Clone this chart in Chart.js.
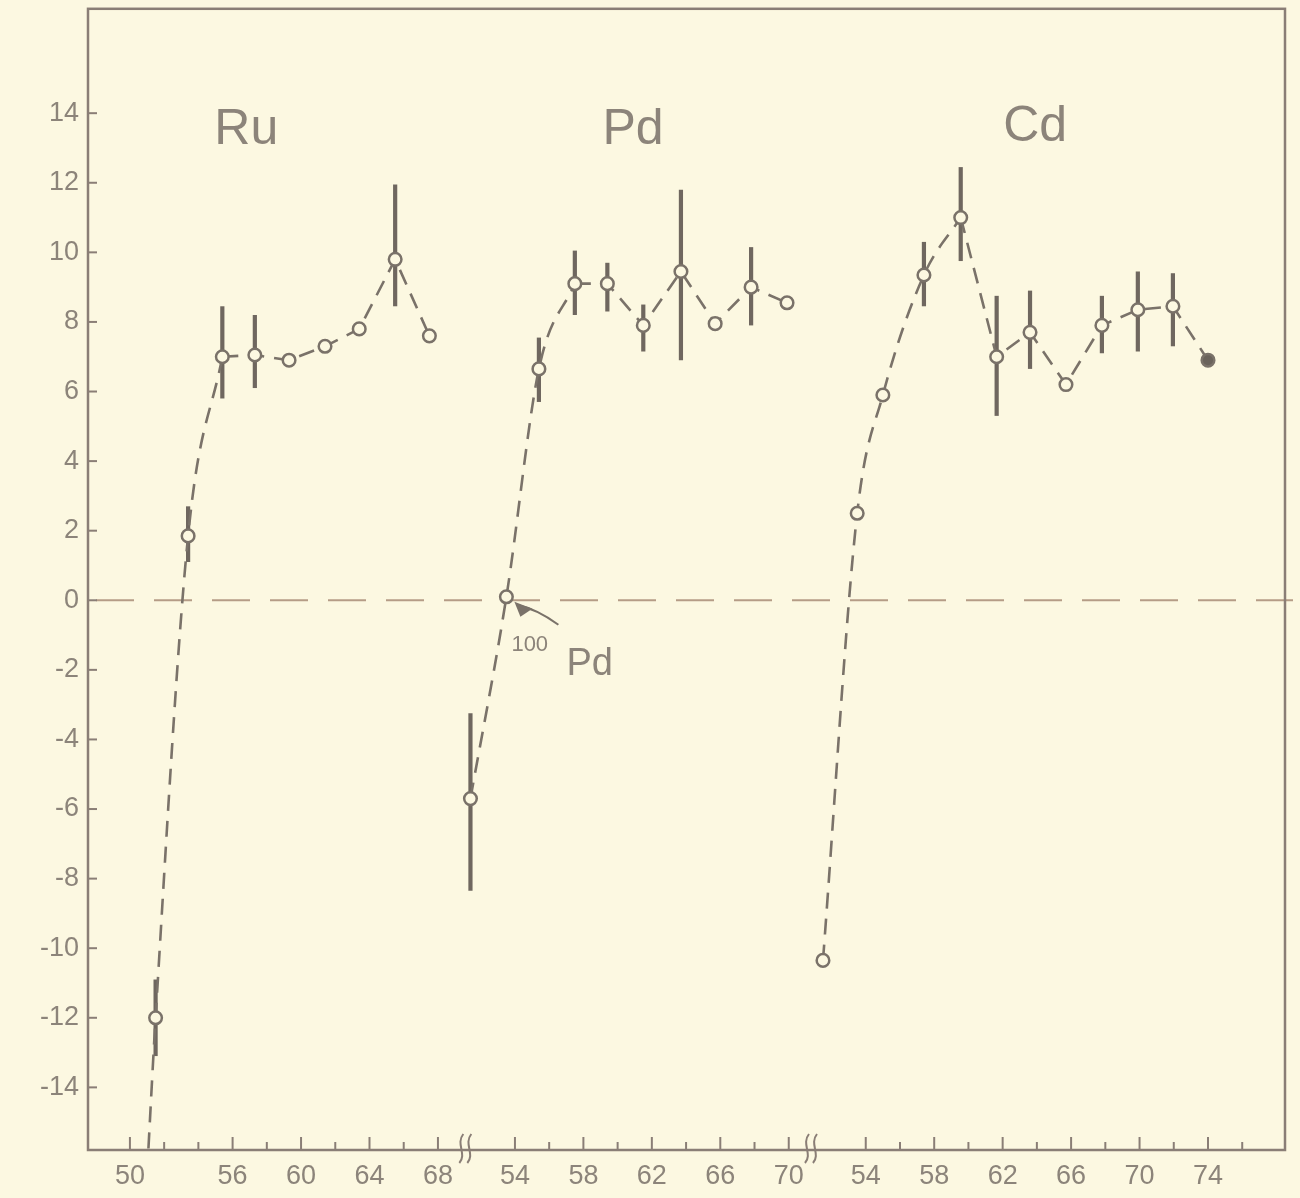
<!DOCTYPE html>
<html>
<head>
<meta charset="utf-8">
<script src="https://cdn.jsdelivr.net/npm/chart.js@4.4.1/dist/chart.umd.min.js"></script>
<style>
  html, body { margin: 0; padding: 0; background: #fcf8e1; }
  #wrap { width: 1300px; height: 1198px; }
</style>
</head>
<body>
<div id="wrap"><canvas id="chart"></canvas></div>
<script>
// values (x = mass number as drawn, y = plotted quantity)
const ruN   = [51.5, 53.4, 55.4, 57.3, 59.3, 61.4, 63.4, 65.5, 67.5];
const ruVal = [-12.0, 1.85, 7.0, 7.05, 6.9, 7.3, 7.8, 9.8, 7.6];
const ruHi  = [-10.9, 2.7, 8.45, 8.2, null, null, null, 11.95, null];
const ruLo  = [-13.1, 1.1, 5.8, 6.1, null, null, null, 8.45, null];
const ruTail = [51.0, -16.5]; // dashed curve runs on below the axis

const pdN   = [51.4, 53.5, 55.4, 57.5, 59.4, 61.5, 63.7, 65.7, 67.8, 69.9];
const pdVal = [-5.7, 0.1, 6.65, 9.1, 9.1, 7.9, 9.45, 7.95, 9.0, 8.55];
const pdHi  = [-3.25, null, 7.55, 10.05, 9.7, 8.5, 11.8, null, 10.15, null];
const pdLo  = [-8.35, null, 5.7, 8.2, 8.3, 7.15, 6.9, null, 7.9, null];

const cdN   = [51.5, 53.5, 55.0, 57.4, 59.55, 61.65, 63.6, 65.7, 67.8, 69.9, 71.95, 74.0];
const cdVal = [-10.35, 2.5, 5.9, 9.35, 11.0, 7.0, 7.7, 6.2, 7.9, 8.35, 8.45, 6.9];
const cdHi  = [null, null, null, 10.3, 12.45, 8.75, 8.9, null, 8.75, 9.45, 9.4, null];
const cdLo  = [null, null, null, 8.45, 9.75, 5.3, 6.65, null, 7.1, 7.15, 7.3, null];

// tick marks and which of them carry a label
const yTicks = [-14, -12, -10, -8, -6, -4, -2, 0, 2, 4, 6, 8, 10, 12, 14];
const ruTicks = [50, 52, 54, 56, 58, 60, 62, 64, 66, 68];
const ruLabels = [50, 56, 60, 64, 68];
const pdTicks = [54, 56, 58, 60, 62, 64, 66, 68, 70];
const pdLabels = [54, 58, 62, 66, 70];
const cdTicks = [54, 56, 58, 60, 62, 64, 66, 68, 70, 72, 74, 76];
const cdLabels = [54, 58, 62, 66, 70, 74];

// the three panels share one axis, shifted along it (broken axis)
const ruOff = 0, pdOff = 18.5, cdOff = 39;
const ruKnee = 2, pdKnee = 3, cdKnee = 4;

const paper = "#fcf8e1";
const ink = "#7a7269";
const barInk = "#6f675f";
const axisInk = "#8a7e76";
const zeroInk = "#b59c86";
const textInk = "#8c847a";

function pts(n, v, off) {
  return n.map((x, i) => ({ x: x + off, y: v[i] }));
}

const xTickList = [];
function addTicks(ticks, labels, off) {
  ticks.forEach(t => xTickList.push({ value: t + off, label: labels.includes(t) ? String(t) : "", major: labels.includes(t) }));
}
addTicks(ruTicks, ruLabels, ruOff);
addTicks(pdTicks, pdLabels, pdOff);
addTicks(cdTicks, cdLabels, cdOff);

const ruPts = pts(ruN, ruVal, ruOff);
const pdPts = pts(pdN, pdVal, pdOff);
const cdPts = pts(cdN, cdVal, cdOff);

function curve(data, monotone) {
  return {
    type: "line",
    data: data,
    borderColor: ink,
    borderWidth: 2.6,
    borderDash: [16, 10],
    pointRadius: 0,
    fill: false,
    cubicInterpolationMode: monotone ? "monotone" : "default",
    tension: 0,
    order: 2
  };
}

function markers(data, fills) {
  return {
    type: "scatter",
    data: data,
    borderColor: ink,
    backgroundColor: fills || paper,
    pointRadius: 6.3,
    pointBorderWidth: 2.5,
    order: 0
  };
}

const errorGroups = [
  [ruN, ruHi, ruLo, ruOff],
  [pdN, pdHi, pdLo, pdOff],
  [cdN, cdHi, cdLo, cdOff]
];

const decorations = {
  id: "decorations",
  beforeDatasetsDraw(chart) {
    const { ctx, chartArea: a, scales: { x, y } } = chart;
    ctx.save();
    // dashed zero line
    ctx.strokeStyle = zeroInk;
    ctx.lineWidth = 2;
    ctx.setLineDash([38, 20]);
    ctx.beginPath();
    ctx.moveTo(a.left + 8, y.getPixelForValue(0));
    ctx.lineTo(a.right + 8, y.getPixelForValue(0));
    ctx.stroke();
    ctx.setLineDash([]);
    // error bars
    ctx.strokeStyle = barInk;
    ctx.lineWidth = 4.2;
    errorGroups.forEach(([n, hi, lo, off]) => {
      n.forEach((v, i) => {
        if (hi[i] == null) return;
        const px = x.getPixelForValue(v + off);
        ctx.beginPath();
        ctx.moveTo(px, y.getPixelForValue(hi[i]));
        ctx.lineTo(px, y.getPixelForValue(lo[i]));
        ctx.stroke();
      });
    });
    ctx.restore();
  },
  afterDraw(chart) {
    const { ctx, chartArea: a, scales: { x, y } } = chart;
    ctx.save();
    // frame
    ctx.strokeStyle = axisInk;
    ctx.lineWidth = 2.5;
    ctx.strokeRect(a.left, a.top, a.right - a.left, a.bottom - a.top);
    // inward tick marks
    ctx.lineWidth = 2;
    yTicks.forEach(t => {
      const py = y.getPixelForValue(t);
      ctx.beginPath();
      ctx.moveTo(a.left, py);
      ctx.lineTo(a.left + 9, py);
      ctx.stroke();
    });
    xTickList.forEach(t => {
      const px = x.getPixelForValue(t.value);
      ctx.beginPath();
      ctx.moveTo(px, a.bottom);
      ctx.lineTo(px, a.bottom - (t.major ? 13 : 8));
      ctx.stroke();
    });
    // axis break marks
    [69.6, 89.8].forEach(u => {
      const px = x.getPixelForValue(u);
      [-4, 4].forEach(dx => {
        ctx.beginPath();
        ctx.moveTo(px + dx + 2, a.bottom - 16);
        ctx.bezierCurveTo(px + dx - 6, a.bottom - 6, px + dx + 6, a.bottom + 4, px + dx - 2, a.bottom + 13);
        ctx.stroke();
      });
    });
    // element names
    ctx.fillStyle = textInk;
    ctx.textAlign = "center";
    ctx.textBaseline = "alphabetic";
    ctx.font = "50px 'Liberation Sans', sans-serif";
    ctx.fillText("Ru", x.getPixelForValue(56.8 + ruOff), y.getPixelForValue(13.1));
    ctx.fillText("Pd", x.getPixelForValue(60.9 + pdOff), y.getPixelForValue(13.1));
    ctx.fillText("Cd", x.getPixelForValue(63.9 + cdOff), y.getPixelForValue(13.2));
    // 100Pd note with its hook
    const qx = x.getPixelForValue(pdN[1] + pdOff);
    const qy = y.getPixelForValue(pdVal[1]);
    ctx.textAlign = "left";
    ctx.font = "22px 'Liberation Sans', sans-serif";
    ctx.fillText("100", qx + 5, qy + 54);
    ctx.font = "38px 'Liberation Sans', sans-serif";
    ctx.fillText("Pd", qx + 60, qy + 78);
    ctx.strokeStyle = ink;
    ctx.lineWidth = 2;
    ctx.beginPath();
    ctx.moveTo(qx + 10, qy + 8);
    ctx.quadraticCurveTo(qx + 30, qy + 12, qx + 52, qy + 28);
    ctx.stroke();
    ctx.fillStyle = ink;
    ctx.beginPath();
    ctx.moveTo(qx + 8, qy + 5);
    ctx.lineTo(qx + 26, qy + 12);
    ctx.lineTo(qx + 14, qy + 20);
    ctx.closePath();
    ctx.fill();
    ctx.restore();
  }
};

const cdFills = cdVal.map((v, i) => (i === cdVal.length - 1 ? "#6a635b" : paper));

new Chart(document.getElementById("chart"), {
  data: {
    datasets: [
      markers(ruPts),
      markers(pdPts),
      markers(cdPts, cdFills),
      curve([{ x: ruTail[0] + ruOff, y: ruTail[1] }].concat(ruPts.slice(0, ruKnee + 1)), true),
      curve(ruPts.slice(ruKnee), false),
      curve(pdPts.slice(0, pdKnee + 1), true),
      curve(pdPts.slice(pdKnee), false),
      curve(cdPts.slice(0, cdKnee + 1), true),
      curve(cdPts.slice(cdKnee), false)
    ]
  },
  options: {
    responsive: true,
    maintainAspectRatio: false,
    animation: false,
    layout: { padding: { top: 0, right: 15, left: 0, bottom: 0 } },
    plugins: { legend: { display: false }, tooltip: { enabled: false } },
    scales: {
      x: {
        type: "linear",
        min: 47.55,
        max: 117.5,
        afterBuildTicks: s => { s.ticks = xTickList.map(t => ({ value: t.value })); },
        afterFit: s => { s.height = 48; s.paddingLeft = 0; s.paddingRight = 0; },
        grid: { display: false, drawTicks: false },
        border: { display: false },
        ticks: {
          autoSkip: false,
          maxRotation: 0,
          padding: 10,
          color: textInk,
          font: { family: "'Liberation Sans', sans-serif", size: 27 },
          callback: v => {
            const t = xTickList.find(k => Math.abs(k.value - v) < 0.01);
            return t ? t.label : "";
          }
        }
      },
      y: {
        type: "linear",
        min: -15.8,
        max: 17.0,
        afterBuildTicks: s => { s.ticks = yTicks.map(v => ({ value: v })); },
        afterFit: s => { s.width = 88; s.paddingTop = 0; s.paddingBottom = 0; },
        grid: { display: false, drawTicks: false },
        border: { display: false },
        ticks: {
          padding: 9,
          color: textInk,
          font: { family: "'Liberation Sans', sans-serif", size: 27 },
          callback: v => String(v)
        }
      }
    }
  },
  plugins: [decorations]
});
</script>
</body>
</html>
